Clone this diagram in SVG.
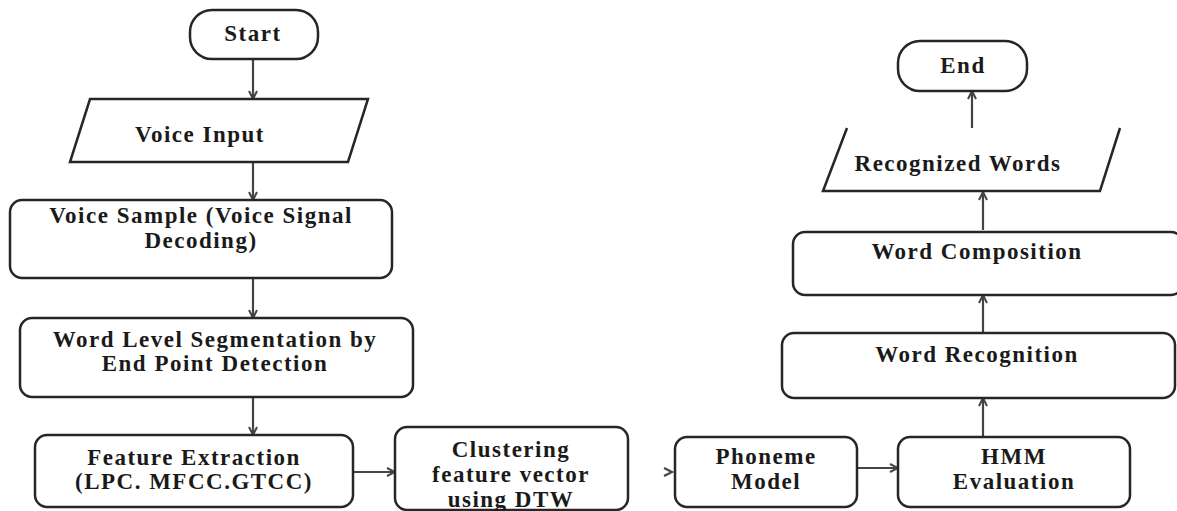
<svg xmlns="http://www.w3.org/2000/svg" width="1177" height="511" viewBox="0 0 1177 511">
<style>
.n{fill:#fff;stroke:#262626;stroke-width:2.5}
.t{font-family:"Liberation Serif","Times New Roman",serif;font-weight:bold;font-size:23px;letter-spacing:1.5px;fill:#1a1a1a;text-anchor:middle}
.c{fill:none;stroke:#444;stroke-width:2.2}
</style>
<defs>
<marker id="a" viewBox="0 0 10 10" refX="9" refY="5" markerWidth="10" markerHeight="10" markerUnits="userSpaceOnUse" orient="auto">
<path d="M1,1 L9,5 L1,9" fill="none" stroke="#444" stroke-width="2"/>
</marker>
</defs>
<rect width="1177" height="511" fill="#fff"/>
<g id="connectors">
<path class="c" d="M253,59 V99" marker-end="url(#a)"/>
<path class="c" d="M253,162 V200" marker-end="url(#a)"/>
<path class="c" d="M253,278 V318" marker-end="url(#a)"/>
<path class="c" d="M253,397 V435" marker-end="url(#a)"/>
<path class="c" d="M353,472 H395" marker-end="url(#a)"/>
<path d="M664,468 L672,472 L664,476" fill="none" stroke="#444" stroke-width="2.2"/>
<path class="c" d="M857,468 H898" marker-end="url(#a)"/>
<path class="c" d="M983,437 V398" marker-end="url(#a)"/>
<path class="c" d="M983,333 V295" marker-end="url(#a)"/>
<path class="c" d="M983,230 V192" marker-end="url(#a)"/>
<path class="c" d="M972,128 V91" marker-end="url(#a)"/>
</g>
<g id="start">
<rect class="n" x="190" y="10" width="128" height="49" rx="22"/>
<text class="t" x="253" y="41">Start</text>
</g>
<g id="voice-input">
<path class="n" d="M90,99 H368 L348,162 H70 Z"/>
<text class="t" x="200" y="142">Voice Input</text>
</g>
<g id="voice-sample">
<rect class="n" x="10" y="200" width="382" height="78" rx="12"/>
<text class="t" x="201" y="223">Voice Sample (Voice Signal</text>
<text class="t" x="201" y="248">Decoding)</text>
</g>
<g id="segmentation">
<rect class="n" x="20" y="318" width="393" height="79" rx="12"/>
<text class="t" x="215" y="347">Word Level Segmentation by</text>
<text class="t" x="215" y="371">End Point Detection</text>
</g>
<g id="feature-extraction">
<rect class="n" x="35" y="435" width="318" height="72" rx="12"/>
<text class="t" x="194" y="465">Feature Extraction</text>
<text class="t" x="194" y="489">(LPC. MFCC.GTCC)</text>
</g>
<g id="clustering">
<rect class="n" x="395" y="427" width="233" height="83" rx="12"/>
<text class="t" x="511" y="457">Clustering</text>
<text class="t" x="511" y="482">feature vector</text>
<text class="t" x="511" y="507">using DTW</text>
</g>
<g id="phoneme">
<rect class="n" x="675" y="437" width="182" height="70" rx="12"/>
<text class="t" x="766" y="464">Phoneme</text>
<text class="t" x="766" y="489">Model</text>
</g>
<g id="hmm">
<rect class="n" x="898" y="437" width="232" height="70" rx="12"/>
<text class="t" x="1014" y="464">HMM</text>
<text class="t" x="1014" y="489">Evaluation</text>
</g>
<g id="word-recognition">
<rect class="n" x="782" y="333" width="393" height="65" rx="12"/>
<text class="t" x="977" y="362">Word Recognition</text>
</g>
<g id="word-composition">
<rect class="n" x="793" y="232" width="390" height="63" rx="12"/>
<text class="t" x="977" y="259">Word Composition</text>
</g>
<g id="recognized-words">
<path class="n" d="M847,128 L823,191 H1100 L1120,128" fill="none"/>
<text class="t" x="958" y="171">Recognized Words</text>
</g>
<g id="end">
<rect class="n" x="898" y="41" width="129" height="50" rx="22"/>
<text class="t" x="963" y="73">End</text>
</g>
</svg>
